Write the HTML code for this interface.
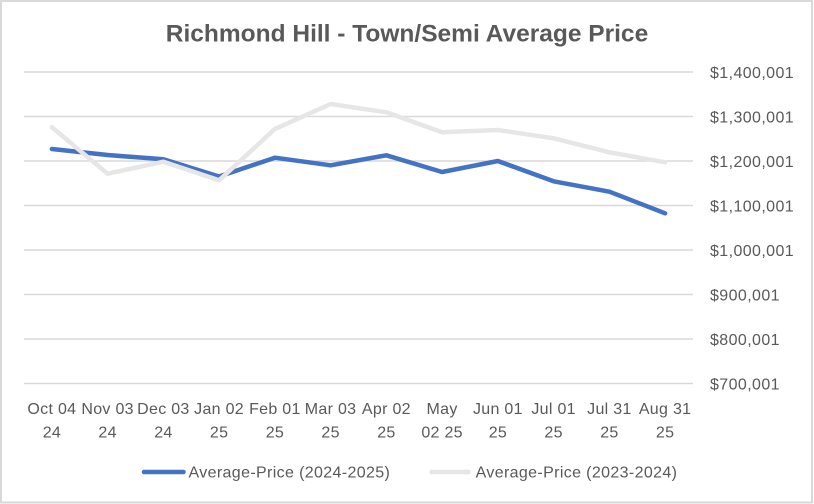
<!DOCTYPE html>
<html>
<head>
<meta charset="utf-8">
<style>
  html, body { margin: 0; padding: 0; background: #ffffff; }
  body { width: 814px; height: 504px; overflow: hidden; }
  svg { display: block; }
  text { font-family: "Liberation Sans", Arial, sans-serif; fill: #595959; }
</style>
</head>
<body>
<svg width="814" height="504" viewBox="0 0 814 504" xmlns="http://www.w3.org/2000/svg">
  <rect x="0" y="0" width="814" height="504" fill="#ffffff"/>
  <rect x="1" y="1" width="811" height="501.5" fill="none" stroke="#d9d9d9" stroke-width="2"/>

  <!-- Title -->
  <text x="407" y="41.5" text-anchor="middle" font-size="24.5" font-weight="bold">Richmond Hill - Town/Semi Average Price</text>

  <!-- Gridlines -->
  <g stroke="#d9d9d9" stroke-width="1.5">
    <line x1="24" y1="72" x2="693" y2="72"/>
    <line x1="24" y1="116.5" x2="693" y2="116.5"/>
    <line x1="24" y1="161" x2="693" y2="161"/>
    <line x1="24" y1="205.5" x2="693" y2="205.5"/>
    <line x1="24" y1="250" x2="693" y2="250"/>
    <line x1="24" y1="294.5" x2="693" y2="294.5"/>
    <line x1="24" y1="339" x2="693" y2="339"/>
    <line x1="24" y1="383.5" x2="693" y2="383.5"/>
  </g>

  <!-- Y axis labels -->
  <g font-size="16" letter-spacing="0.4">
    <text x="710" y="77.8">$1,400,001</text>
    <text x="710" y="122.3">$1,300,001</text>
    <text x="710" y="166.8">$1,200,001</text>
    <text x="710" y="211.3">$1,100,001</text>
    <text x="710" y="255.8">$1,000,001</text>
    <text x="710" y="300.3">$900,001</text>
    <text x="710" y="344.8">$800,001</text>
    <text x="710" y="389.3">$700,001</text>
  </g>

  <!-- X axis labels -->
  <g font-size="16" letter-spacing="0.3" text-anchor="middle">
    <text x="51.9" y="414">Oct 04</text><text x="51.9" y="437.5">24</text>
    <text x="107.6" y="414">Nov 03</text><text x="107.6" y="437.5">24</text>
    <text x="163.4" y="414">Dec 03</text><text x="163.4" y="437.5">24</text>
    <text x="219.1" y="414">Jan 02</text><text x="219.1" y="437.5">25</text>
    <text x="274.9" y="414">Feb 01</text><text x="274.9" y="437.5">25</text>
    <text x="330.6" y="414">Mar 03</text><text x="330.6" y="437.5">25</text>
    <text x="386.4" y="414">Apr 02</text><text x="386.4" y="437.5">25</text>
    <text x="442.1" y="414">May</text><text x="442.1" y="437.5">02 25</text>
    <text x="497.9" y="414">Jun 01</text><text x="497.9" y="437.5">25</text>
    <text x="553.6" y="414">Jul 01</text><text x="553.6" y="437.5">25</text>
    <text x="609.4" y="414">Jul 31</text><text x="609.4" y="437.5">25</text>
    <text x="665.1" y="414">Aug 31</text><text x="665.1" y="437.5">25</text>
  </g>

  <!-- Series: 2024-2025 (blue) -->
  <polyline fill="none" stroke="#4472c4" stroke-width="4.5" stroke-linejoin="round" stroke-linecap="round"
    points="51.9,149 107.6,155 163.4,159.3 219.1,176.5 274.9,157.7 330.6,165.3 386.4,155.3 442.1,172 497.9,161 553.6,181.3 609.4,191.7 665.1,213.3"/>

  <!-- Series: 2023-2024 (light gray) -->
  <polyline fill="none" stroke="#e7e6e6" stroke-width="4.5" stroke-linejoin="round" stroke-linecap="round"
    points="51.9,127.3 107.6,173.7 163.4,161.7 219.1,180.3 274.9,129 330.6,104 386.4,112.3 442.1,132.3 497.9,130 553.6,138.3 609.4,152.3 665.1,162.3"/>

  <!-- Legend -->
  <line x1="144" y1="472" x2="183.5" y2="472" stroke="#4472c4" stroke-width="4.5" stroke-linecap="round"/>
  <text x="188.5" y="477.6" font-size="16" letter-spacing="0.36">Average-Price (2024-2025)</text>
  <line x1="431.5" y1="472" x2="468.5" y2="472" stroke="#e7e6e6" stroke-width="4.5" stroke-linecap="round"/>
  <text x="475.6" y="477.6" font-size="16" letter-spacing="0.36">Average-Price (2023-2024)</text>
</svg>
</body>
</html>
